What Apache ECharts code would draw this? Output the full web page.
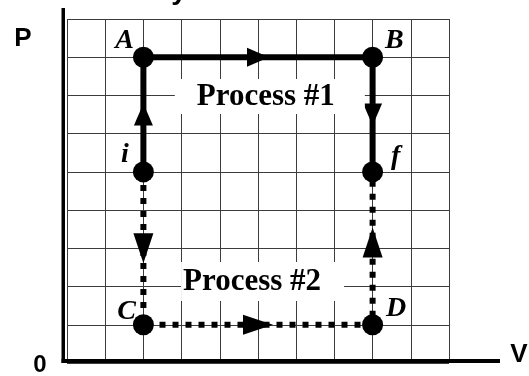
<!DOCTYPE html>
<html><head><meta charset="utf-8">
<script src="https://cdn.jsdelivr.net/npm/echarts@6/dist/echarts.min.js"></script>
<style>html,body{margin:0;padding:0;background:#fff}#c{width:529px;height:376px}</style>
</head><body><div id="c"></div>
<script>
// ---- data ----
const stateNames = ['i', 'A', 'B', 'f', 'C', 'D'];
const stateV = [2, 2, 8, 8, 2, 8];
const stateP = [5, 8, 8, 5, 1, 1];
const process1V = [2, 2, 8, 8];
const process1P = [5, 8, 8, 5];
const process2V = [2, 2, 8, 8];
const process2P = [5, 1, 1, 5];
const arrow1V = [2, 5, 8];
const arrow1P = [6.5, 8, 6.5];
const arrow1Dir = ['up', 'right', 'down'];
const arrow2V = [2, 5, 8];
const arrow2P = [3, 1, 3.15];
const arrow2Dir = ['down', 'right', 'up'];
const processLabels = ['Process #1', 'Process #2'];
const processLabelV = [5.31, 5.12];
const processLabelP = [6.97, 2.13];
const vTicks = [0, 1, 2, 3, 4, 5, 6, 7, 8, 9, 10];
const pTicks = [0, 1, 2, 3, 4, 5, 6, 7, 8, 9];

// ---- styling helpers ----
const rot = { up: 0, right: -90, down: 180, left: 90 };
const labelPos = {
  A: { position: 'left', offset: [1, -16] },
  B: { position: 'right', offset: [2, -16] },
  i: { position: 'left', offset: [-4, -17] },
  f: { position: 'right', offset: [8, -15] },
  C: { position: 'left', offset: [3, -13] },
  D: { position: 'right', offset: [3, -16] }
};
const serif = '"Liberation Serif","Times New Roman",serif';
const sans = '"Liberation Sans",Arial,sans-serif';

const zip = (xs, ys) => xs.map((x, k) => [x, ys[k]]);

const chart = echarts.init(document.getElementById('c'), null, { renderer: 'canvas' });
const axisCommon = {
  type: 'value', axisLine: { show: false }, axisTick: { show: false }, axisLabel: { show: false },
  splitLine: { show: true, lineStyle: { color: '#3c3c3c', width: 1 } }
};
const solid = { color: '#000', opacity: 1 };
chart.setOption({
  animation: false,
  backgroundColor: '#fff',
  grid: { left: 67, right: 80, top: 19, bottom: 13 },
  xAxis: Object.assign({}, axisCommon, { min: vTicks[0], max: vTicks[vTicks.length - 1], interval: 1 }),
  yAxis: Object.assign({}, axisCommon, { min: pTicks[0], max: pTicks[pTicks.length - 1], interval: 1 }),
  series: [
    { type: 'line', data: zip(process1V, process1P), symbol: 'none', z: 3,
      lineStyle: { color: '#000', opacity: 1, width: 6, cap: 'butt', join: 'miter' } },
    { type: 'line', data: zip(process2V, process2P), symbol: 'none', z: 3,
      lineStyle: { color: '#000', opacity: 1, width: 6, type: [6, 7], cap: 'butt' } },
    { type: 'scatter', z: 4, symbol: 'triangle', symbolSize: [19, 22], itemStyle: solid,
      data: arrow1V.map((v, k) => ({ value: [v, arrow1P[k]], symbolRotate: rot[arrow1Dir[k]] })) },
    { type: 'scatter', z: 4, symbol: 'triangle', symbolSize: [20, 30], itemStyle: solid,
      data: arrow2V.map((v, k) => ({ value: [v, arrow2P[k]], symbolRotate: rot[arrow2Dir[k]] })) },
    { type: 'scatter', z: 5, symbol: 'circle', symbolSize: 21, itemStyle: solid,
      data: stateNames.map((n, k) => ({
        name: n, value: [stateV[k], stateP[k]],
        label: Object.assign({ show: true, formatter: n, distance: 0, color: '#000',
          fontFamily: serif, fontStyle: 'italic', fontWeight: 'bold', fontSize: 28 }, labelPos[n])
      })) },
    { type: 'scatter', z: 6, symbolSize: 0, silent: true, itemStyle: solid,
      data: processLabels.map((n, k) => ({
        name: n, value: [processLabelV[k], processLabelP[k]],
        label: { show: true, position: 'inside', formatter: n, color: '#000', fontFamily: serif,
          fontWeight: 'bold', fontSize: 31, lineHeight: 31, backgroundColor: '#fff',
          padding: k === 0 ? [2, 30, 2, 22] : [4, 23, 4, 2] }
      })) }
  ],
  graphic: [
    { type: 'rect', shape: { x: 61.5, y: 8, width: 3.5, height: 355 }, style: { fill: '#000' }, z: 10 },
    { type: 'rect', shape: { x: 61.5, y: 359, width: 438.5, height: 4 }, style: { fill: '#000' }, z: 10 },
    { type: 'text', x: 23, y: 39, style: { text: 'P', font: 'bold 26px ' + sans, fill: '#000', align: 'center', verticalAlign: 'middle' } },
    { type: 'text', x: 40, y: 365, style: { text: '0', font: 'bold 24px ' + sans, fill: '#000', align: 'center', verticalAlign: 'middle' } },
    { type: 'text', x: 519, y: 355, style: { text: 'V', font: 'bold 26px ' + sans, fill: '#000', align: 'center', verticalAlign: 'middle' } },
    { type: 'text', x: 179, y: 5, style: { text: 'y', font: 'bold 28px ' + sans, fill: '#000', align: 'center', verticalAlign: 'bottom' } }
  ]
});
</script></body></html>
